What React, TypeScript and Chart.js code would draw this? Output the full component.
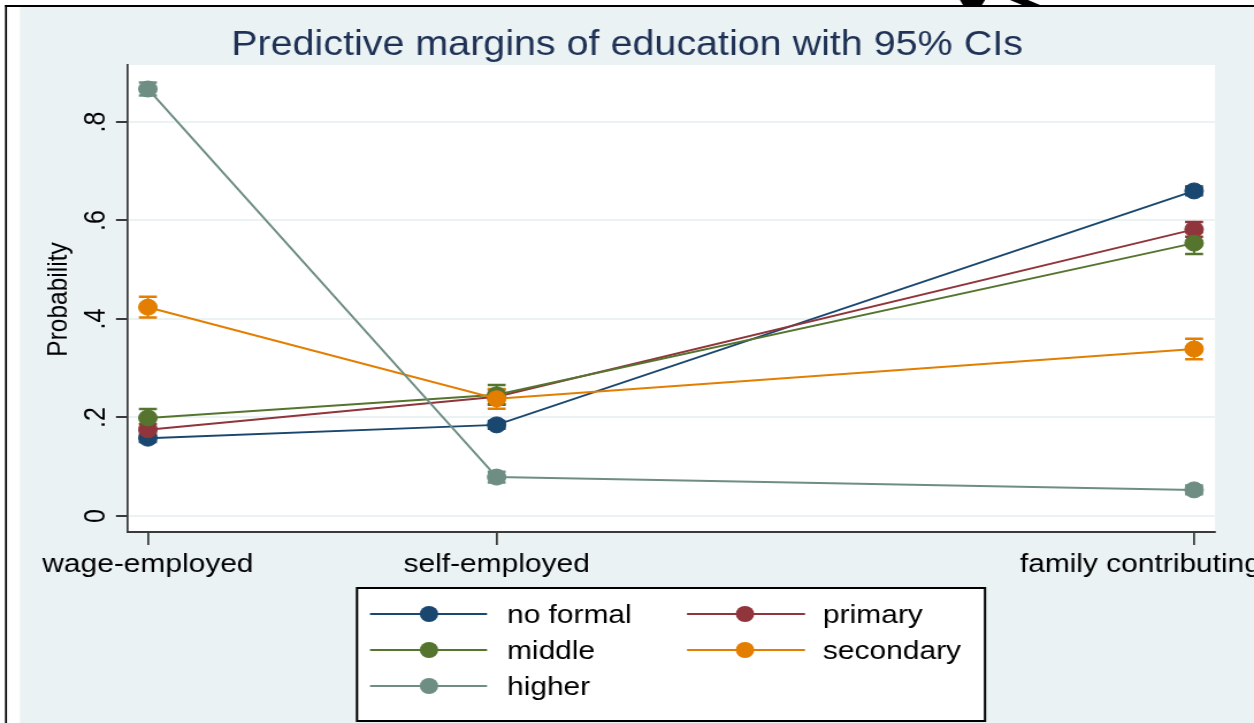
import React, { useEffect, useRef } from 'react';
import { Chart, registerables } from 'chart.js';

Chart.register(...registerables);

// ---------- data ----------
const chartTitle = 'Predictive margins of education with 95% CIs';
const yAxisTitle = 'Probability';
const categories = ['wage-employed', 'self-employed', 'family contributing'];
const categoryX = [1, 2, 4];
const yTicks = [0, 0.2, 0.4, 0.6, 0.8];
const yTickLabels = ['0', '.2', '.4', '.6', '.8'];

const seriesNames = ['no formal', 'primary', 'middle', 'secondary', 'higher'];
const seriesColors = ['#1a476f', '#90353b', '#55752f', '#e37e00', '#6e8e84'];

const noFormal = [0.158, 0.185, 0.66];
const noFormalCI = [0.008, 0.008, 0.009];
const primary = [0.175, 0.242, 0.582];
const primaryCI = [0.012, 0.015, 0.015];
const middle = [0.199, 0.246, 0.554];
const middleCI = [0.018, 0.02, 0.022];
const secondary = [0.424, 0.238, 0.339];
const secondaryCI = [0.021, 0.02, 0.021];
const higher = [0.867, 0.079, 0.053];
const higherCI = [0.013, 0.011, 0.009];

const seriesValues = [noFormal, primary, middle, secondary, higher];
const seriesCI = [noFormalCI, primaryCI, middleCI, secondaryCI, higherCI];

// ---------- layout ----------
const PAGE_W = 1254;
const W = 1090;
const H = 723;
const S = PAGE_W / W; // horizontal stretch of the reference picture
const FONT = '"Liberation Sans", Arial, Helvetica, sans-serif';
const BG = '#eaf2f3';
const AXIS = '#3a3a3a';

const plotLeft = 128 / S;
const plotRight = 1215 / S;
const plotTop = 65;
const plotBottom = 532;

const decor = {
  id: 'decor',
  beforeDraw(chart: any) {
    const ctx = chart.ctx as CanvasRenderingContext2D;
    const a = chart.chartArea;
    ctx.save();
    ctx.fillStyle = '#ffffff';
    ctx.fillRect(0, 0, W, H);
    ctx.fillStyle = BG;
    ctx.fillRect(20 / S, 7, W, H);
    ctx.fillStyle = '#000000';
    ctx.fillRect(5 / S, 5, 2 / S, H);
    ctx.fillRect(5 / S, 5, W, 2);
    ctx.beginPath();
    ctx.moveTo(960 / S, 0);
    ctx.lineTo(985 / S, 0);
    ctx.lineTo(982 / S, 5);
    ctx.lineTo(963 / S, 5);
    ctx.closePath();
    ctx.fill();
    ctx.beginPath();
    ctx.moveTo(1010 / S, 0);
    ctx.lineTo(1028 / S, 0);
    ctx.lineTo(1040 / S, 5);
    ctx.lineTo(1022 / S, 5);
    ctx.closePath();
    ctx.fill();
    ctx.fillStyle = '#ffffff';
    ctx.fillRect(a.left, a.top, a.right - a.left, a.bottom - a.top);
    ctx.restore();
  },
  beforeDatasetsDraw(chart: any) {
    const ctx = chart.ctx as CanvasRenderingContext2D;
    const xs = chart.scales.x;
    const ys = chart.scales.y;
    const cap = 9 / S;
    ctx.save();
    seriesValues.forEach((vals, i) => {
      ctx.strokeStyle = seriesColors[i];
      vals.forEach((v, j) => {
        const x = xs.getPixelForValue(categoryX[j]);
        const yLo = ys.getPixelForValue(v - seriesCI[i][j]);
        const yHi = ys.getPixelForValue(v + seriesCI[i][j]);
        ctx.lineWidth = 2;
        ctx.beginPath();
        ctx.moveTo(x, yLo);
        ctx.lineTo(x, yHi);
        ctx.stroke();
        ctx.lineWidth = 2.5;
        ctx.beginPath();
        ctx.moveTo(x - cap, yLo);
        ctx.lineTo(x + cap, yLo);
        ctx.moveTo(x - cap, yHi);
        ctx.lineTo(x + cap, yHi);
        ctx.stroke();
      });
    });
    ctx.restore();
  },
  afterDraw(chart: any) {
    const ctx = chart.ctx as CanvasRenderingContext2D;
    const xs = chart.scales.x;
    const ys = chart.scales.y;
    ctx.save();
    // title
    ctx.fillStyle = '#1f3256';
    ctx.font = `34.3px ${FONT}`;
    ctx.textAlign = 'center';
    ctx.textBaseline = 'alphabetic';
    ctx.fillText(chartTitle, W / 2, 55);

    // x tick labels
    ctx.fillStyle = '#000000';
    ctx.font = `26px ${FONT}`;
    categories.forEach((c, j) => {
      const w = ctx.measureText(c).width;
      const x = Math.min(xs.getPixelForValue(categoryX[j]), W + 6 - w / 2);
      ctx.fillText(c, x, 572);
    });

    // y tick labels (rotated)
    ctx.font = `25px ${FONT}`;
    yTicks.forEach((t, k) => {
      const y = ys.getPixelForValue(t);
      ctx.save();
      ctx.translate(105 / S, y);
      ctx.rotate(-Math.PI / 2);
      ctx.fillText(yTickLabels[k], 0, 0);
      ctx.restore();
    });

    // y axis title
    ctx.font = `24.5px ${FONT}`;
    ctx.save();
    ctx.translate(67 / S, (plotTop + plotBottom) / 2 + 1);
    ctx.rotate(-Math.PI / 2);
    ctx.fillText(yAxisTitle, 0, 0);
    ctx.restore();

    // legend
    const bl = 357 / S, br = 985 / S, bt = 588, bb = 721;
    ctx.fillStyle = '#ffffff';
    ctx.fillRect(bl, bt, br - bl, bb - bt);
    ctx.strokeStyle = '#000000';
    ctx.lineWidth = 2;
    ctx.strokeRect(bl, bt, br - bl, bb - bt);
    const cols = [
      { l0: 370, l1: 487, m: 429, t: 507 },
      { l0: 687, l1: 805, m: 745, t: 823 },
    ];
    const rows = [614, 650, 686];
    ctx.font = `26px ${FONT}`;
    ctx.textAlign = 'left';
    seriesNames.forEach((name, i) => {
      const c = cols[i % 2];
      const ry = rows[Math.floor(i / 2)];
      ctx.strokeStyle = seriesColors[i];
      ctx.lineWidth = 2;
      ctx.beginPath();
      ctx.moveTo(c.l0 / S, ry);
      ctx.lineTo(c.l1 / S, ry);
      ctx.stroke();
      ctx.fillStyle = seriesColors[i];
      ctx.beginPath();
      ctx.arc(c.m / S, ry, 8, 0, Math.PI * 2);
      ctx.fill();
      ctx.fillStyle = '#000000';
      ctx.fillText(name, c.t / S, ry + 9);
    });
    ctx.restore();
  },
};

export default function App() {
  const ref = useRef<HTMLCanvasElement>(null);
  useEffect(() => {
    document.body.style.margin = '0';
    const datasets = seriesNames.map((name, i) => ({
      label: name,
      data: seriesValues[i].map((v, j) => ({ x: categoryX[j], y: v })),
      borderColor: seriesColors[i],
      backgroundColor: seriesColors[i],
      pointBackgroundColor: seriesColors[i],
      pointBorderColor: seriesColors[i],
      pointRadius: 8,
      pointBorderWidth: 1,
      borderWidth: 2,
      tension: 0,
      order: seriesNames.length - 1 - i,
    }));
    const chart = new Chart(ref.current as HTMLCanvasElement, {
      type: 'line',
      data: { datasets },
      options: {
        responsive: false,
        devicePixelRatio: 1,
        animation: false,
        events: [],
        layout: { padding: { left: 0, right: W - plotRight, top: plotTop, bottom: 0 } },
        plugins: {
          legend: { display: false },
          title: { display: false },
          tooltip: { enabled: false },
        },
        scales: {
          x: {
            type: 'linear',
            position: 'bottom',
            min: 0.943,
            max: 4.06,
            afterBuildTicks: (s: any) => {
              s.ticks = categoryX.map((v) => ({ value: v }));
            },
            afterFit: (s: any) => {
              s.height = H - plotBottom;
            },
            ticks: { display: false },
            grid: {
              drawOnChartArea: false,
              drawTicks: true,
              tickLength: 13,
              tickColor: AXIS,
              tickWidth: 2 / S,
              lineWidth: 2 / S,
              color: AXIS,
            },
            border: { display: true, color: AXIS, width: 2 },
          },
          y: {
            type: 'linear',
            min: -0.0325,
            max: 0.9157,
            afterBuildTicks: (s: any) => {
              s.ticks = yTicks.map((v) => ({ value: v }));
            },
            afterFit: (s: any) => {
              s.width = plotLeft;
            },
            ticks: { display: false },
            grid: {
              drawOnChartArea: true,
              drawTicks: true,
              tickLength: 12 / S,
              color: BG,
              lineWidth: 2,
              tickColor: AXIS,
              tickWidth: 2,
            },
            border: { display: true, color: AXIS, width: 2 / S },
          },
        },
      },
      plugins: [decor],
    } as any);
    return () => chart.destroy();
  }, []);
  return (
    <canvas
      ref={ref}
      width={W}
      height={H}
      style={{ display: 'block', width: `${PAGE_W}px`, height: `${H}px` }}
    />
  );
}
